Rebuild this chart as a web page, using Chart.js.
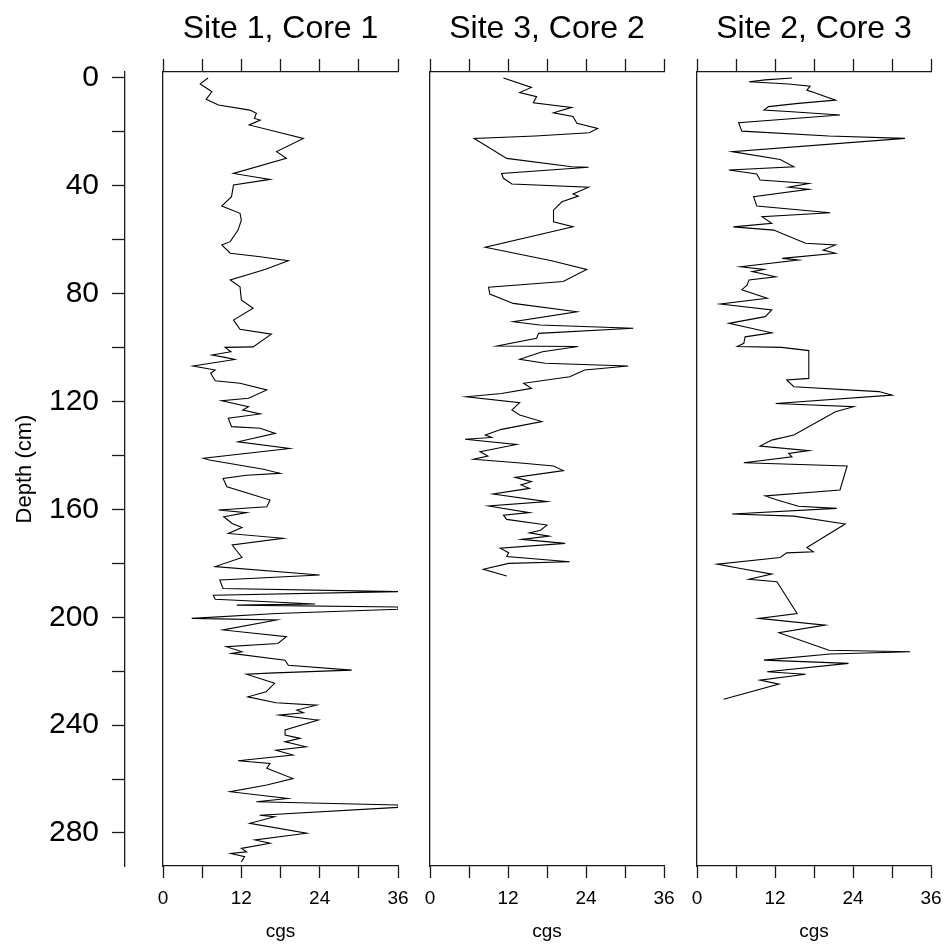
<!DOCTYPE html>
<html>
<head>
<meta charset="utf-8">
<title>Core profiles</title>
<script src="https://cdn.jsdelivr.net/npm/chart.js@4.4.0/dist/chart.umd.min.js"></script>
<style>
  html, body { margin: 0; padding: 0; background: #fff; }
  #wrap { position: relative; width: 946px; height: 949px; overflow: hidden; background: #fff; }
  canvas { position: absolute; top: 0; }
</style>
</head>
<body>
<div id="wrap">
  <canvas id="core1" width="412" height="949" style="left:0px"></canvas>
  <canvas id="core2" width="265" height="949" style="left:412px"></canvas>
  <canvas id="core3" width="269" height="949" style="left:677px"></canvas>
</div>
<script>
// tick values
const cgsTicks = [0, 6, 12, 18, 24, 30, 36];
const depthTicks = [0, 20, 40, 60, 80, 100, 120, 140, 160, 180, 200, 220, 240, 260, 280];

// Site 1, Core 1
const depth1 = [
  0, 2.2, 5.1, 7.9, 10, 11.9, 13.1, 15, 15.6, 17.4,
  22.4, 27.3, 29.8, 35.4, 37.6, 39.7, 44, 47.5, 50.2, 52.7,
  56.4, 60.7, 61.9, 65, 66.3, 67.8, 71, 74.9, 77.4, 82.3,
  85.4, 89.8, 93.2, 95, 99.7, 99.9, 101.5, 102.7, 103.6, 104.4,
  106.8, 108.3, 109.5, 112.3, 113.2, 115.7, 118.8, 119.7, 121.9, 123.1,
  124.6, 126.2, 129.3, 129.9, 131.8, 134.9, 137.4, 141, 141.7, 145.1,
  146.6, 147.3, 148.5, 151.6, 156.5, 159, 160.2, 161.2, 162.7, 165.2,
  166.7, 168.9, 170.7, 173.2, 177.8, 181.2, 184.3, 186.2, 189.3, 190.5,
  191.8, 193.3, 195.1, 195.5, 196.2, 197, 198.6, 200.4, 201, 204.7,
  207.2, 209.7, 210.9, 212.8, 213.4, 215.9, 217.8, 219.6, 220.6, 221.1,
  224.5, 227.6, 229.5, 231.7, 232.6, 234.4, 235.4, 236.3, 237.9, 238.1,
  241.8, 243.7, 244.9, 246.2, 248, 249.3, 251.1, 253.2, 254.2, 256,
  259.8, 262.2, 264.7, 267.2, 268.4, 269.6, 270.5, 273.4, 274, 276.4,
  280.1, 282.6, 283.8, 285.7, 287, 287.6, 288.8, 290.7
];
const cgs1 = [
  6.9, 5.7, 7.5, 6.6, 8.5, 13.3, 14.3, 14.0, 14.9, 13.2,
  21.5, 17.4, 18.9, 10.8, 16.4, 10.8, 10.5, 9.0, 11.8, 12.0,
  11.5, 10.3, 9.0, 10.3, 14.9, 19.2, 15.6, 10.3, 11.8, 12.0,
  13.8, 10.8, 11.8, 16.6, 13.8, 9.5, 10.4, 7.5, 9.5, 11.0,
  4.6, 8.0, 7.3, 8.0, 11.8, 15.9, 13.1, 9.0, 13.1, 12.2,
  14.9, 10.0, 10.5, 14.9, 17.2, 11.5, 19.4, 6.2, 7.1, 15.4,
  17.9, 12.8, 9.2, 9.8, 16.4, 15.9, 8.5, 12.8, 9.3, 10.6,
  12.1, 10.0, 18.4, 10.6, 12.1, 8.0, 24.0, 8.7, 9.2, 36,
  7.7, 8.0, 23.3, 11.3, 36, 36, 17.4, 4.4, 17.4, 9.2,
  18.9, 17.6, 9.7, 12.1, 10.5, 18.7, 19.2, 28.9, 17.1, 12.8,
  17.1, 15.8, 13.0, 17.3, 23.5, 20.5, 21.5, 17.8, 23.0, 23.8,
  18.7, 18.7, 21.0, 18.7, 21.9, 17.3, 19.9, 11.5, 16.4, 15.9,
  19.9, 15.9, 10.3, 19.1, 14.3, 36, 36, 14.8, 17.1, 13.3,
  22.0, 14.1, 16.4, 12.0, 12.8, 10.4, 12.5, 12.0
];

// Site 3, Core 2
const depth2 = [
  0, 3.5, 5.4, 6.9, 9.2, 10.9, 12.9, 14.3, 16.8, 18.7,
  20.3, 21.5, 22.4, 29.8, 32.9, 33.1, 35.4, 37.2, 39.3, 40.5,
  43, 43.8, 45.9, 49, 53.3, 55.2, 62.8, 67.8, 71, 75.5,
  77.6, 80.1, 83.6, 86.7, 90.4, 91.6, 92.8, 94.7, 96.5, 99.4,
  99.6, 101.5, 104.3, 105.8, 106.8, 108.3, 110.8, 113.2, 115.1, 117,
  118.2, 120.4, 123.1, 125, 127.4, 130.3, 132.4, 133.3, 134, 135.9,
  138.6, 140.2, 141.4, 142.9, 143.9, 145.6, 148.1, 149.7, 150.9, 152.2,
  154.3, 157.1, 158.7, 161.2, 162.1, 163.7, 165.8, 167.7, 168.7, 169.9,
  171.1, 172.6, 174.4, 176.1, 177.5, 179.4, 180, 182.2, 184.7
];
const cgs2 = [
  11.3, 15.6, 13.8, 16.4, 15.9, 21.8, 19.0, 22.0, 22.6, 25.8,
  24.5, 16.2, 6.8, 11.8, 21.8, 24.4, 11.0, 11.3, 12.6, 24.4,
  22.0, 22.8, 20.3, 19.0, 19.0, 22.0, 8.5, 18.7, 24.1, 20.5,
  9.0, 9.2, 12.8, 22.6, 12.8, 16.9, 31.3, 16.7, 16.4, 10.3,
  22.8, 17.3, 13.8, 17.7, 30.5, 23.8, 21.5, 14.4, 15.6, 11.0,
  5.6, 13.8, 12.6, 13.8, 17.2, 11.0, 8.5, 9.5, 5.4, 13.3,
  7.7, 8.9, 6.7, 14.4, 19.0, 20.5, 13.1, 15.6, 14.0, 15.3,
  9.7, 18.0, 9.0, 15.3, 11.3, 11.8, 18.0, 17.0, 15.3, 18.3,
  14.1, 20.8, 10.8, 12.1, 11.8, 21.5, 12.1, 8.2, 11.8
];

// Site 2, Core 3
const depth3 = [
  0, 0.7, 1.4, 2.2, 3, 4.5, 5.4, 8.2, 9.4, 10.6,
  11.9, 12.5, 13.7, 16.6, 19.7, 21.5, 22.4, 27.3, 30.2, 32.9,
  34.1, 35.6, 37.8, 39.1, 40.5, 41.3, 44, 47.5, 50, 51.4,
  53.9, 55.2, 56.4, 61.3, 61.9, 63.8, 65, 66.9, 67.5, 70,
  71, 71.8, 73.7, 74.9, 76.8, 78.5, 81.7, 83.8, 86, 88.5,
  91, 94.5, 96, 98.4, 99.6, 99.9, 101.1, 111.4, 112, 114.5,
  116.3, 117.6, 120.7, 121.9, 123.8, 132.4, 134.3, 136.5, 138.2, 139.2,
  140.5, 142.7, 143.9, 152.8, 155, 156.3, 158.8, 159.6, 161.7, 162.5,
  165.4, 174.1, 175.7, 176.1, 177.8, 180.3, 181.9, 184, 185.9, 186.8,
  198.6, 200.4, 202.9, 205.7, 212.2, 212.8, 213.6, 215.9, 217.1, 220.2,
  221.1, 223.3, 224.8, 230.4
];
const cgs3 = [
  14.6, 10.5, 8.0, 14.1, 17.4, 16.9, 18.0, 21.3, 15.6, 11.0,
  10.3, 14.6, 22.0, 6.4, 6.9, 20.3, 32.0, 5.4, 12.8, 14.9,
  4.9, 9.2, 9.7, 17.2, 14.1, 17.2, 8.7, 9.2, 20.5, 10.0,
  11.5, 5.6, 11.8, 16.7, 21.3, 19.4, 21.3, 13.1, 15.6, 6.7,
  10.3, 8.5, 12.1, 8.0, 7.7, 6.9, 10.8, 3.6, 11.5, 10.5,
  4.9, 11.5, 7.4, 7.2, 6.2, 13.0, 17.2, 17.2, 13.8, 14.9,
  28.0, 30.0, 12.1, 24.1, 21.3, 14.9, 11.5, 9.7, 17.2, 14.1,
  14.6, 7.2, 23.1, 22.0, 10.5, 12.1, 15.6, 21.5, 5.4, 14.9,
  22.8, 16.9, 17.9, 13.8, 12.8, 3.1, 6.7, 11.5, 8.0, 12.3,
  15.4, 9.5, 19.7, 12.6, 20.3, 32.8, 20.5, 10.3, 23.3, 10.8,
  16.7, 9.7, 12.6, 4.1
];

Chart.defaults.font.family = "'Liberation Sans', Arial, sans-serif";
Chart.defaults.color = '#000';

const axisColor = '#1a1a1a';
const depthMin = -2.225;
const depthMax = 292.24;

function makeCore(id, title, depth, cgs, leftWidth, rightPad, showDepth) {
    const scales = {
        x: {
            type: 'linear',
            position: 'bottom',
            min: 0,
            max: 36,
            afterBuildTicks: s => { s.ticks = cgsTicks.map(v => ({ value: v })); },
            afterFit: s => { s.height = 83; s.paddingLeft = 0; s.paddingRight = 0; },
            grid: { drawOnChartArea: false, tickLength: 12, tickColor: axisColor, tickWidth: 1.3 },
            border: { color: axisColor, width: 1.3 },
            ticks: {
                autoSkip: false,
                maxRotation: 0,
                padding: 9,
                font: { size: 19 },
                callback: v => (v % 12 === 0 ? v : '')
            },
            title: { display: true, text: 'cgs', font: { size: 19 }, padding: { top: 0, bottom: 6 } }
        },
        x2: {
            type: 'linear',
            position: 'top',
            min: 0,
            max: 36,
            afterBuildTicks: s => { s.ticks = cgsTicks.map(v => ({ value: v })); },
            afterFit: s => { s.height = 13; s.paddingLeft = 0; s.paddingRight = 0; },
            grid: { drawOnChartArea: false, tickLength: 13, tickColor: axisColor, tickWidth: 1.3 },
            border: { color: axisColor, width: 1.3 },
            ticks: { display: false }
        },
        y: {
            type: 'linear',
            position: 'left',
            weight: 0,
            reverse: true,
            min: depthMin,
            max: depthMax,
            afterFit: s => { s.width = leftWidth; s.paddingTop = 0; s.paddingBottom = 0; },
            grid: { drawOnChartArea: false, drawTicks: false },
            border: { color: axisColor, width: 1.3 },
            ticks: { display: false }
        }
    };

    if (showDepth) {
        scales.yd = {
            type: 'linear',
            position: 'left',
            weight: 1,
            reverse: true,
            min: depthMin,
            max: depthMax,
            afterBuildTicks: s => { s.ticks = depthTicks.map(v => ({ value: v })); },
            afterFit: s => { s.width = 125; s.paddingTop = 0; s.paddingBottom = 0; },
            grid: { drawOnChartArea: false, tickLength: 13, tickColor: axisColor, tickWidth: 1.3 },
            border: { color: axisColor, width: 1.3 },
            ticks: {
                autoSkip: false,
                padding: 13,
                font: { size: 30 },
                callback: v => (v % 40 === 0 ? v : '')
            },
            title: { display: true, text: 'Depth (cm)', font: { size: 22 }, padding: { top: 11.8, bottom: 0 } }
        };
    }

    return new Chart(document.getElementById(id), {
        type: 'line',
        data: {
            datasets: [{
                label: title,
                data: depth.map((d, i) => ({ x: cgs[i], y: d })),
                borderColor: '#000',
                borderWidth: 1.1,
                pointRadius: 0,
                fill: false,
                tension: 0,
                xAxisID: 'x',
                yAxisID: 'y'
            }]
        },
        options: {
            indexAxis: 'y',
            responsive: false,
            animation: false,
            devicePixelRatio: 1,
            layout: { padding: { top: 0, right: rightPad, bottom: 0, left: 0 } },
            plugins: {
                legend: { display: false },
                tooltip: { enabled: false },
                title: {
                    display: true,
                    text: title,
                    fullSize: false,
                    color: '#000',
                    font: { size: 32, weight: 'normal' },
                    padding: { top: 10, bottom: 10.6 }
                }
            },
            scales: scales
        }
    });
}

makeCore('core1', 'Site 1, Core 1', depth1, cgs1, 38, 14, true);
makeCore('core2', 'Site 3, Core 2', depth2, cgs2, 18, 13, false);
makeCore('core3', 'Site 2, Core 3', depth3, cgs3, 20, 15, false);
</script>
</body>
</html>
